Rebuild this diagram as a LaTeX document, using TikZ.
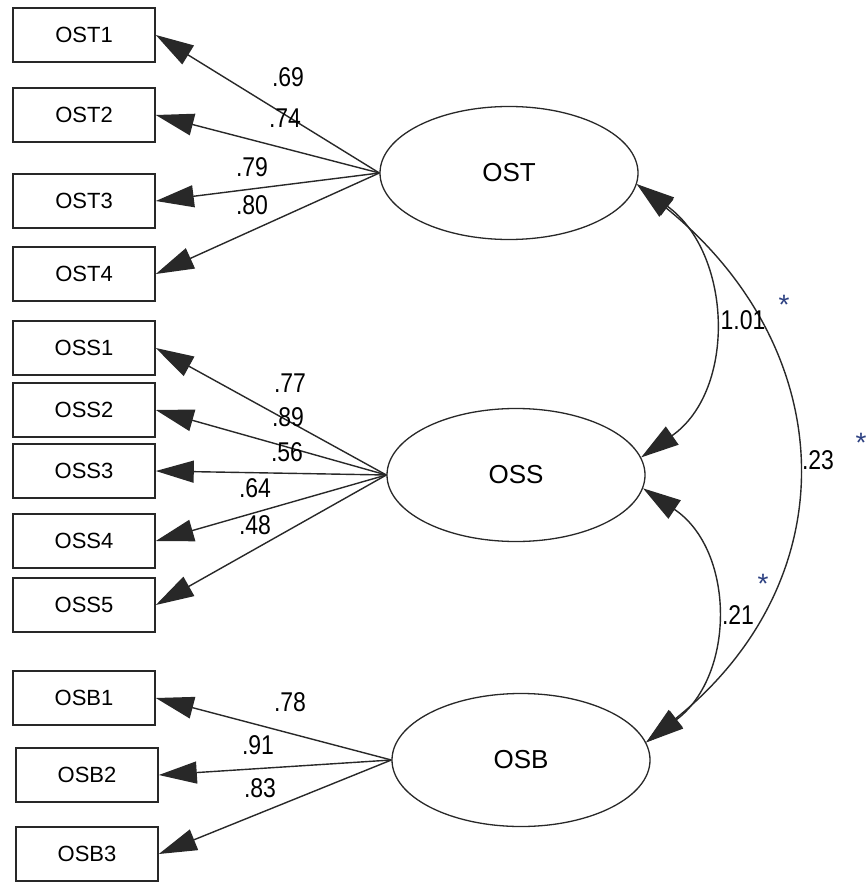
\documentclass[tikz,border=0pt]{standalone}
\usepackage{fontspec}
\setmainfont{Liberation Sans}
\usetikzlibrary{shapes.geometric,arrows.meta}
\definecolor{linegray}{RGB}{40,40,40}
\definecolor{stargray}{RGB}{45,65,130}
\newcommand\tallnum[1]{\scalebox{1}[1.18]{#1}}

\begin{document}
\begin{tikzpicture}[x=1pt,y=-1pt,
  ind/.style={draw=linegray, line width=1.6pt, minimum width=142pt, minimum height=54pt,
              inner sep=0pt, font=\fontsize{22}{22}\selectfont},
  lat/.style={ellipse, draw=linegray, line width=1.3pt, minimum width=258pt,
              minimum height=133pt, inner sep=0pt, font=\fontsize{26}{26}\selectfont},
  load/.style={draw=linegray, line width=1.4pt, -{Triangle[length=38pt,width=22pt]}},
  cov/.style={draw=linegray, line width=1.4pt,
              {Triangle[length=38pt,width=22pt]}-{Triangle[length=38pt,width=22pt]}},
  coef/.style={inner sep=0pt, font=\fontsize{23}{23}\selectfont},
  sig/.style={inner sep=0pt, text=stargray, font=\fontsize{28}{28}\selectfont}
]
\fill[white] (0,0) rectangle (867,882);
\useasboundingbox (0,0) rectangle (867,882);

% observed indicators
\node[ind] (OST1) at (84,35)  {OST1};
\node[ind] (OST2) at (84,115) {OST2};
\node[ind] (OST3) at (84,201) {OST3};
\node[ind] (OST4) at (84,274) {OST4};
\node[ind] (OSS1) at (84,348) {OSS1};
\node[ind] (OSS2) at (84,410) {OSS2};
\node[ind] (OSS3) at (84,471) {OSS3};
\node[ind] (OSS4) at (84,541) {OSS4};
\node[ind] (OSS5) at (84,605) {OSS5};
\node[ind] (OSB1) at (84,698) {OSB1};
\node[ind] (OSB2) at (87,775) {OSB2};
\node[ind] (OSB3) at (87,854) {OSB3};

% latent factors
\node[lat] (OST) at (509,173) {OST};
\node[lat] (OSS) at (516,475) {OSS};
\node[lat] (OSB) at (521,760) {OSB};

% factor loadings
\foreach \i in {1,...,4} \draw[load] (OST.west) -- (OST\i.east);
\foreach \i in {1,...,5} \draw[load] (OSS.west) -- (OSS\i.east);
\foreach \i in {1,...,3} \draw[load] (OSB.west) -- (OSB\i.east);

\node[coef] (l1) at (288,77)  {\tallnum{.69}};
\node[coef] (l2) at (285,118) {\tallnum{.74}};
\node[coef] (l3) at (252,167) {\tallnum{.79}};
\node[coef] (l4) at (252,205) {\tallnum{.80}};
\node[coef] (l5) at (290,383) {\tallnum{.77}};
\node[coef] (l6) at (288,417) {\tallnum{.89}};
\node[coef] (l7) at (287,452) {\tallnum{.56}};
\node[coef] (l8) at (255,488) {\tallnum{.64}};
\node[coef] (l9) at (255,525) {\tallnum{.48}};
\node[coef] (l10) at (290,702) {\tallnum{.78}};
\node[coef] (l11) at (258,745) {\tallnum{.91}};
\node[coef] (l12) at (260,788) {\tallnum{.83}};

% factor covariances
\draw[cov] (OST.-5) .. controls (732,253) and (737,390) .. (OSS.8);
\draw[cov] (OST.-5) .. controls (840,349) and (850,578) .. (OSB.8);
\draw[cov] (OSS.-6) .. controls (735,550) and (736,675) .. (OSB.8);

\node[coef] (c1) at (743,320) {\tallnum{1.01}};
\node[coef] (c2) at (818,460) {\tallnum{.23}};
\node[coef] (c3) at (738,615) {\tallnum{.21}};

% significance marks
\node[sig] (s1) at (784,305) {*};
\node[sig] (s2) at (861,443) {*};
\node[sig] (s3) at (763,584) {*};
\end{tikzpicture}
\end{document}
